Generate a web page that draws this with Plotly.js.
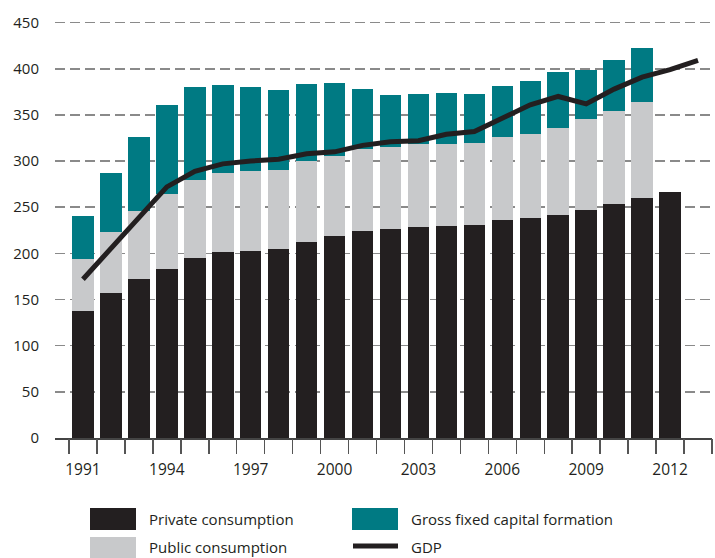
<!DOCTYPE html>
<html>
<head>
<meta charset="utf-8">
<script src="https://cdn.plot.ly/plotly-3.0.1.min.js"></script>
<style>html,body{margin:0;padding:0;background:#fff;}#chart{width:715px;height:558px;}</style>
</head>
<body>
<div id="chart"></div>
<script>
const years = [1991,1992,1993,1994,1995,1996,1997,1998,1999,2000,2001,2002,2003,2004,2005,2006,2007,2008,2009,2010,2011,2012];
const gdpYears = [1991,1992,1993,1994,1995,1996,1997,1998,1999,2000,2001,2002,2003,2004,2005,2006,2007,2008,2009,2010,2011,2012,2013];
// stack tops
const privateTop = [138,157,172,183,195,201,203,205,212,219,224,226,229,230,231,236,238,242,247,253,260,266];
const publicTop  = [194,223,246,264,280,287,289,290,300,306,313,315,318,319,320,326,329,336,346,354,364,null];
const gfcfTop    = [240,287,326,361,380,382,380,377,384,385,378,372,373,374,373,381,387,396,399,410,423,null];
const gdp = [172,206,240,272,289,297,300,302,308,310,317,321,322,329,332,346,361,370,362,378,391,399,409];
const yTicks = [0,50,100,150,200,250,300,350,400,450];
const xTickLabels = [1991,1994,1997,2000,2003,2006,2009,2012];

const privateVals = privateTop;
const publicVals = publicTop.map((v,i)=> v==null?null:v-privateTop[i]);
const gfcfVals = gfcfTop.map((v,i)=> v==null?null:v-publicTop[i]);

const cPriv = '#231f20', cPub = '#c8c9cb', cGfcf = '#007a83';
const font = 'Open Sans, Noto Sans, sans-serif';

const traces = [
  {type:'bar', x:years, y:privateVals, name:'Private consumption', marker:{color:cPriv}},
  {type:'bar', x:years, y:publicVals, name:'Public consumption', marker:{color:cPub}},
  {type:'bar', x:years, y:gfcfVals, name:'Gross fixed capital formation', marker:{color:cGfcf}},
  {type:'scatter', mode:'lines', x:gdpYears, y:gdp, name:'GDP', line:{color:cPriv, width:5}},
  {type:'scatter', mode:'markers', x:[1990.5], y:[0], xaxis:'x2', marker:{opacity:0}, hoverinfo:'skip', showlegend:false}
];

const L = 55, T = 18, W = 657, H = 420;
const px = x => (x - L)/W;
const py = y => (T + H - y)/H;

const layout = {
  width:715, height:558,
  margin:{l:L, r:715-L-W, t:T, b:558-T-H},
  paper_bgcolor:'#fff', plot_bgcolor:'#fff',
  barmode:'stack', bargap:0.23, showlegend:false,
  font:{family:font, color:'#231f20', size:15},
  xaxis:{range:[1990,2013.5], tickvals:xTickLabels, ticktext:xTickLabels.map(String),
         ticks:'outside', ticklen:17, tickcolor:'rgba(0,0,0,0)', showgrid:false,
         showline:true, linecolor:'#444', linewidth:1.5, zeroline:false,
         tickfont:{family:font, size:15.5, color:'#231f20'}},
  xaxis2:{overlaying:'x', anchor:'y', side:'bottom', range:[1990,2013.5],
          tickvals:gdpYears.map(y=>y-0.5).concat([2013.5]), showticklabels:false,
          ticks:'outside', ticklen:15, tickcolor:'#555', tickwidth:1.5,
          showgrid:false, showline:false, zeroline:false},
  yaxis:{range:[0,455], tickvals:yTicks, ticktext:yTicks.map(String),
         showgrid:true, gridcolor:'#8a8a8a', gridwidth:1.5, griddash:'10px,5px',
         zeroline:false, showline:false, ticks:'', ticklabelstandoff:15,
         tickfont:{family:font, size:15, color:'#231f20'}},
  shapes:[
    {type:'rect', xref:'paper', yref:'paper', x0:px(90), x1:px(136), y0:py(508), y1:py(530), fillcolor:cPriv, line:{width:0}},
    {type:'rect', xref:'paper', yref:'paper', x0:px(90), x1:px(136), y0:py(537), y1:py(560), fillcolor:cPub, line:{width:0}},
    {type:'rect', xref:'paper', yref:'paper', x0:px(352), x1:px(398), y0:py(508), y1:py(530), fillcolor:cGfcf, line:{width:0}},
    {type:'line', xref:'paper', yref:'paper', x0:px(353), x1:px(398), y0:py(546), y1:py(546), line:{color:cPriv, width:5}}
  ],
  annotations:[
    {text:'Private consumption', xref:'paper', yref:'paper', x:px(147), y:py(519), xanchor:'left', yanchor:'middle', showarrow:false, font:{family:font, size:15, color:'#231f20'}},
    {text:'Public consumption', xref:'paper', yref:'paper', x:px(147), y:py(547), xanchor:'left', yanchor:'middle', showarrow:false, font:{family:font, size:15, color:'#231f20'}},
    {text:'Gross fixed capital formation', xref:'paper', yref:'paper', x:px(409), y:py(519), xanchor:'left', yanchor:'middle', showarrow:false, font:{family:font, size:15, color:'#231f20'}},
    {text:'GDP', xref:'paper', yref:'paper', x:px(409), y:py(547), xanchor:'left', yanchor:'middle', showarrow:false, font:{family:font, size:15, color:'#231f20'}}
  ]
};

Plotly.newPlot('chart', traces, layout, {displayModeBar:false, staticPlot:true});
</script>
</body>
</html>
